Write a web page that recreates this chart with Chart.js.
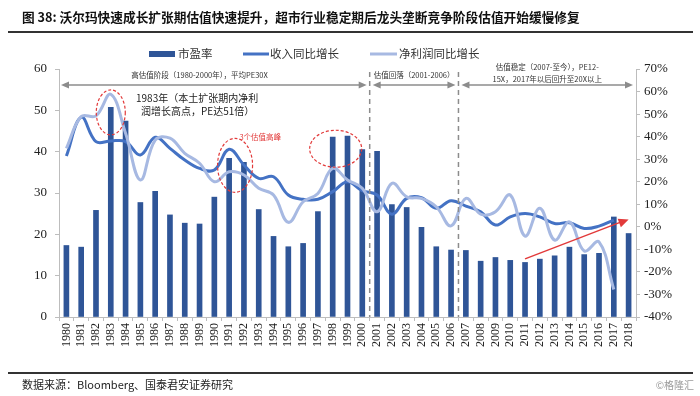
<!DOCTYPE html>
<html>
<head>
<meta charset="utf-8">
<script src="https://cdn.jsdelivr.net/npm/chart.js@4.4.1/dist/chart.umd.min.js"></script>
<style>
  body { margin: 0; background: #fff; }
  #wrap { position: relative; width: 700px; height: 396px; overflow: hidden; }
  canvas { position: absolute; left: 0; top: 0; }
  .title { position: absolute; left: 22px; top: 7px; line-height: 20px; font: bold 12.7px "Noto Sans CJK SC"; color: #111; white-space: nowrap; }
  .rule { position: absolute; left: 8px; width: 685px; height: 2px; background: #333; }
  .src { position: absolute; left: 22px; top: 376px; line-height: 16px; font: 11px "Noto Sans CJK SC"; color: #222; white-space: nowrap; }
  .wm { position: absolute; right: 6px; top: 377px; line-height: 14px; font: 10px "Noto Sans CJK SC"; color: #9a9a9a; }
</style>
</head>
<body>
<div id="wrap">
  <canvas id="chart" width="700" height="396"></canvas>
  <div class="title">图 38: 沃尔玛快速成长扩张期估值快速提升，超市行业稳定期后龙头垄断竞争阶段估值开始缓慢修复</div>
  <div class="rule" style="top:31px"></div>
  <div class="rule" style="top:372px;height:1.5px"></div>
  <div class="src">数据来源：Bloomberg、国泰君安证券研究</div>
  <div class="wm">©格隆汇</div>
</div>
<script>
const years = ['1980','1981','1982','1983','1984','1985','1986','1987','1988','1989',
  '1990','1991','1992','1993','1994','1995','1996','1997','1998','1999',
  '2000','2001','2002','2003','2004','2005','2006','2007','2008','2009',
  '2010','2011','2012','2013','2014','2015','2016','2017','2018'];

// 市盈率 (left axis)
const peRatio = [17.3, 16.9, 25.8, 50.7, 47.4, 27.7, 30.4, 24.7, 22.7, 22.5,
  29.0, 38.4, 37.4, 26.0, 19.5, 17.0, 17.8, 25.5, 43.5, 43.8,
  40.5, 40.1, 27.2, 26.5, 21.7, 17.0, 16.2, 16.1, 13.5, 14.4,
  13.7, 13.2, 14.0, 14.8, 16.9, 15.1, 15.4, 24.2, 20.2];

// 收入同比增长 (%)
const revenueGrowth = [31.4, 48.6, 37.8, 38.1, 37.8, 31.9, 39.7, 34.8, 29.6, 25.9,
  25.2, 34.4, 27.4, 21.5, 22.2, 14.1, 12.2, 12.2, 15.6, 20.0,
  16.0, 14.1, 5.6, 12.6, 12.9, 8.2, 11.6, 9.2, 6.7, 0.8,
  4.4, 5.9, 4.4, 1.5, 1.8, -0.7, 0.3, 3.0, null];

// 净利润同比增长 (%)
const profitGrowth = [34.8, 48.9, 49.2, 58.8, 41.5, 20.8, 38.5, 39.3, 32.6, 28.2,
  20.0, 24.4, 23.0, 17.1, 14.1, 2.0, 11.1, 14.8, 25.9, 20.8,
  17.1, 6.7, 19.3, 13.3, 12.6, 8.9, 0.4, 12.6, 5.6, 6.7,
  14.1, -4.1, 8.2, -5.9, 2.2, -10.7, -6.7, -27.8, null];

const leftTicks = { min: 0, max: 60, step: 10 };
const rightTicks = { min: -40, max: 70, step: 10 };

const BAR = '#2f5597';
const DARK = '#4472c4';
const LIGHT = '#a7b9e2';
const GREY = '#8c8c8c';
const RED = '#e23a3a';
const CJK = '"Noto Sans CJK SC"';

function arrowHead(ctx, x1, y1, x2, y2, len, half) {
  const ang = Math.atan2(y2 - y1, x2 - x1);
  ctx.beginPath();
  ctx.moveTo(x2, y2);
  ctx.lineTo(x2 - len * Math.cos(ang) + half * Math.sin(ang), y2 - len * Math.sin(ang) - half * Math.cos(ang));
  ctx.lineTo(x2 - len * Math.cos(ang) - half * Math.sin(ang), y2 - len * Math.sin(ang) + half * Math.cos(ang));
  ctx.closePath();
  ctx.fill();
}

function doubleArrow(ctx, xa, xb, yy) {
  ctx.beginPath();
  ctx.moveTo(xa + 4, yy);
  ctx.lineTo(xb - 4, yy);
  ctx.stroke();
  arrowHead(ctx, xb, yy, xa, yy, 8, 3.5);
  arrowHead(ctx, xa, yy, xb, yy, 8, 3.5);
}

const notes = {
  id: 'notes',
  afterDatasetsDraw(chart) {
    const { ctx, chartArea: a, scales: { x, y, y1 } } = chart;
    const edge = (i) => (x.getPixelForValue(i) + x.getPixelForValue(i + 1)) / 2;
    const b1 = edge(20), b2 = edge(26);
    ctx.save();

    // phase separators
    ctx.strokeStyle = GREY;
    ctx.lineWidth = 1.5;
    ctx.setLineDash([5, 4]);
    [b1, b2].forEach(px => {
      ctx.beginPath();
      ctx.moveTo(px, a.top + 3);
      ctx.lineTo(px, a.bottom);
      ctx.stroke();
    });
    ctx.setLineDash([]);

    // phase arrows
    ctx.fillStyle = GREY;
    ctx.lineWidth = 1.5;
    const ay = 85;
    doubleArrow(ctx, a.left + 2, b1 - 3, ay);
    doubleArrow(ctx, b1 + 3, b2 - 3, ay);
    doubleArrow(ctx, b2 + 3, a.right - 3, ay);

    ctx.fillStyle = '#333';
    ctx.textAlign = 'center';
    ctx.textBaseline = 'middle';
    ctx.font = '7.5px ' + CJK;
    ctx.fillText('高估值阶段（1980-2000年），平均PE30X', x.getPixelForValue(9), 75);
    ctx.fillText('估值回落（2001-2006）', (b1 + b2) / 2, 75.5);
    ctx.fillText('估值稳定（2007-至今），PE12-', x.getPixelForValue(32.5), 67);
    ctx.fillText('15X，2017年以后回升至20X以上', x.getPixelForValue(32.5), 79);

    // 1983 note
    ctx.textAlign = 'left';
    ctx.font = '10px ' + CJK;
    ctx.fillStyle = '#222';
    ctx.fillText('1983年（本土扩张期内净利', 136, 98);
    ctx.fillText('润增长高点，PE达51倍）', 141, 111);

    ctx.fillStyle = RED;
    ctx.textAlign = 'center';
    ctx.font = '7.5px ' + CJK;
    ctx.fillText('3个估值高峰', x.getPixelForValue(13.1), 137);

    // red dashed ellipses round the PE peaks
    ctx.strokeStyle = RED;
    ctx.lineWidth = 1.2;
    ctx.setLineDash([3, 2]);
    [[3, 49.5, 14.5, 22.5], [11.4, 36.7, 17.5, 27], [18.2, 40.7, 26, 18.5]].forEach(([i, v, rx, ry]) => {
      ctx.beginPath();
      ctx.ellipse(x.getPixelForValue(i), y.getPixelForValue(v), rx, ry, 0, 0, Math.PI * 2);
      ctx.stroke();
    });
    ctx.setLineDash([]);

    // red trend arrow 2011 -> 2018
    const sx = x.getPixelForValue(31), sy = y1.getPixelForValue(-14.2);
    const ex = x.getPixelForValue(38), ey = y1.getPixelForValue(3.3);
    ctx.lineWidth = 1.5;
    ctx.beginPath();
    ctx.moveTo(sx, sy);
    ctx.lineTo(ex - 6, ey + 2);
    ctx.stroke();
    ctx.fillStyle = RED;
    arrowHead(ctx, sx, sy, ex, ey, 10, 4.5);

    // legend
    ctx.font = '11.5px ' + CJK;
    ctx.textAlign = 'left';
    const ly = 54;
    ctx.fillStyle = BAR;
    ctx.fillRect(149, ly - 3, 26, 6);
    ctx.fillStyle = '#333';
    ctx.fillText('市盈率', 178, ly);
    ctx.fillStyle = DARK;
    ctx.fillRect(243, ly - 1.5, 26, 3);
    ctx.fillStyle = '#333';
    ctx.fillText('收入同比增长', 270, ly);
    ctx.fillStyle = LIGHT;
    ctx.fillRect(370, ly - 1.5, 27, 3);
    ctx.fillStyle = '#333';
    ctx.fillText('净利润同比增长', 399, ly);

    ctx.restore();
  }
};

const axisFont = { family: '"Liberation Serif"', size: 13 };

new Chart(document.getElementById('chart'), {
  type: 'bar',
  data: {
    labels: years,
    datasets: [{
      type: 'line',
      label: '净利润同比增长',
      data: profitGrowth,
      yAxisID: 'y1',
      borderColor: LIGHT,
      backgroundColor: LIGHT,
      borderWidth: 3,
      pointRadius: 0,
      tension: 0.4,
      order: 1
    }, {
      type: 'line',
      label: '收入同比增长',
      data: revenueGrowth,
      yAxisID: 'y1',
      borderColor: DARK,
      backgroundColor: DARK,
      borderWidth: 3,
      pointRadius: 0,
      tension: 0.4,
      order: 2
    }, {
      label: '市盈率',
      data: peRatio,
      yAxisID: 'y',
      backgroundColor: BAR,
      barThickness: 5,
      order: 3
    }]
  },
  options: {
    responsive: false,
    animation: false,
    layout: { padding: { top: 69, left: 0, right: 0, bottom: 0 } },
    plugins: {
      legend: { display: false },
      tooltip: { enabled: false }
    },
    scales: {
      x: {
        offset: true,
        grid: { drawOnChartArea: false, tickLength: 4, color: '#bdbdbd' },
        border: { color: '#bdbdbd' },
        ticks: {
          autoSkip: false,
          minRotation: 90,
          maxRotation: 90,
          padding: 2,
          color: '#222',
          font: { family: '"Liberation Serif"', size: 12 }
        },
        afterFit: (s) => { s.height = 79; }
      },
      y: {
        position: 'left',
        min: leftTicks.min,
        max: leftTicks.max,
        grid: { drawOnChartArea: false, tickLength: 4, color: '#bdbdbd' },
        border: { color: '#bdbdbd' },
        ticks: { stepSize: leftTicks.step, color: '#222', font: axisFont, padding: 8 },
        afterFit: (s) => { s.width = 59; }
      },
      y1: {
        position: 'right',
        min: rightTicks.min,
        max: rightTicks.max,
        grid: { drawOnChartArea: false, tickLength: 4, color: '#bdbdbd' },
        border: { color: '#bdbdbd' },
        ticks: {
          stepSize: rightTicks.step,
          color: '#222',
          font: axisFont,
          padding: 4,
          callback: (v) => v + '%'
        },
        afterFit: (s) => { s.width = 64; }
      }
    }
  },
  plugins: [notes]
});
</script>
</body>
</html>
